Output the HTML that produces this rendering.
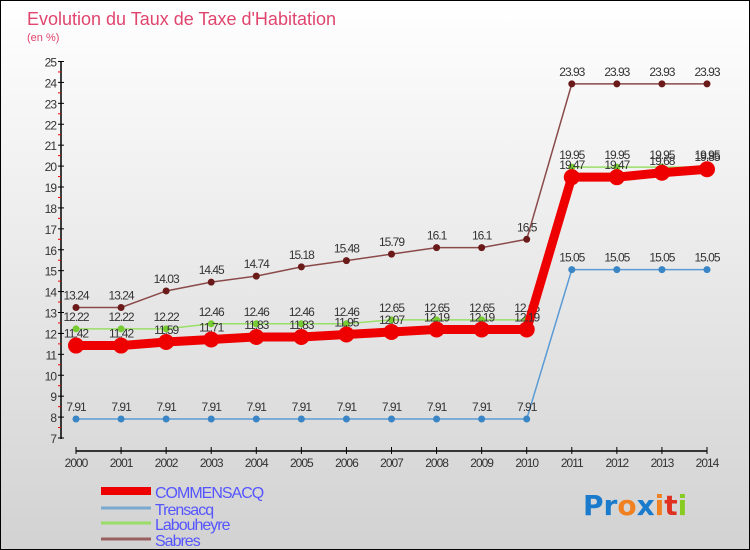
<!DOCTYPE html>
<html><head><meta charset="utf-8"><style>
body{margin:0;}
#wrap{position:relative;width:748px;height:548px;border:1px solid #000;background:linear-gradient(#ffffff,#d2d2d2);font-family:"Liberation Sans",sans-serif;overflow:hidden;}
</style></head><body>
<div id="wrap">
<svg id="c" width="748" height="548" xmlns="http://www.w3.org/2000/svg"></svg>
</div>
<script>
const years=[2000,2001,2002,2003,2004,2005,2006,2007,2008,2009,2010,2011,2012,2013,2014];
const commensacq=[11.42,11.42,11.59,11.71,11.83,11.83,11.95,12.07,12.19,12.19,12.19,19.47,19.47,19.68,19.85];
const trensacq=[7.91,7.91,7.91,7.91,7.91,7.91,7.91,7.91,7.91,7.91,7.91,15.05,15.05,15.05,15.05];
const labouheyre=[12.22,12.22,12.22,12.46,12.46,12.46,12.46,12.65,12.65,12.65,12.65,19.95,19.95,19.95,19.95];
const sabres=[13.24,13.24,14.03,14.45,14.74,15.18,15.48,15.79,16.1,16.1,16.5,23.93,23.93,23.93,23.93];
const yTicks=[7,8,9,10,11,12,13,14,15,16,17,18,19,20,21,22,23,24,25];
const NS="http://www.w3.org/2000/svg";
const svg=document.getElementById('c');
const X=i=>75+i*(706-75)/(years.length-1);
const Y=v=>437-(v-7)*(437-60.5)/18;
function el(t,a,txt){const e=document.createElementNS(NS,t);for(const k in a)e.setAttribute(k,a[k]);if(txt!==undefined)e.textContent=txt;svg.appendChild(e);return e;}
let t=el('text',{x:26,y:24,'font-size':18,fill:'#e0456e'},'Evolution du Taux de Taxe d\'Habitation');

t=el('text',{x:26,y:40,'font-size':11,fill:'#e0456e'},'(en %)');

// y axis
let a=el('line',{x1:60,y1:60,x2:60,y2:438,stroke:'#000','stroke-width':1.5});

yTicks.forEach(v=>{el('line',{x1:57,y1:Y(v),x2:63,y2:Y(v),stroke:'#000'});
 if(v<25)el('line',{x1:57,y1:Y(v+0.5),x2:60,y2:Y(v+0.5),stroke:'#e00'});
 const l=el('text',{x:55,y:Y(v)+5,'font-size':12,fill:'#333','text-anchor':'end','letter-spacing':-1},v);
 });
// x axis
a=el('line',{x1:75,y1:450,x2:706,y2:450,stroke:'#000','stroke-width':1.5});

years.forEach((y,i)=>{el('line',{x1:X(i),y1:446,x2:X(i),y2:453,stroke:'#000'});
 const l=el('text',{x:X(i),y:466,'font-size':12,fill:'#333','text-anchor':'middle','letter-spacing':-1},y);
 });
function series(name,vals,color,dot,w,r,lab){
 const p=el('polyline',{points:vals.map((v,i)=>X(i)+','+Y(v)).join(' '),fill:'none',stroke:color,'stroke-width':w});
 
 vals.forEach((v,i)=>{const c=el('circle',{cx:X(i),cy:Y(v),r:r,fill:dot});
  
  if(lab){const l=el('text',{x:X(i),y:Y(v)-8,'font-size':12,fill:'#333','text-anchor':'middle','letter-spacing':-1},v);
  }});
}
series('sabres',sabres,'#8b4a4a','#6b1a1a',1.5,3.5,true);
series('trensacq',trensacq,'#5b9bd5','#3a85c5',1.5,3.5,true);
series('labouheyre',labouheyre,'#99e066','#77cc33',1.5,3.5,true);
series('commensacq',commensacq,'#ee0000','#ee0000',9,8,true);
// legend
const leg=[['COMMENSACQ','#ee0000',8,495],['Trensacq','#7aaad0',3,512],['Labouheyre','#99dd66',3,527],['Sabres','#9a6060',3,543]];
leg.forEach(([n,c,w,y])=>{const s=el('line',{x1:100,y1:y-5,x2:150,y2:y-5,stroke:c,'stroke-width':w});
 
 const l=el('text',{x:154,y:y+2,'font-size':16,fill:'#5555ff','letter-spacing':-1},n);
 });
const lg=el('text',{x:582,y:514,'font-size':28,'font-weight':'bold','font-family':'DejaVu Sans, sans-serif'});

[['Pr','#1a7acc'],['o','#f08020'],['x','#1a7acc'],['i','#f08020'],['t','#e03020'],['i','#88cc22']].forEach(([s,c])=>{const ts=document.createElementNS(NS,'tspan');ts.setAttribute('fill',c);ts.textContent=s;lg.appendChild(ts);});
</script>
</body></html>
